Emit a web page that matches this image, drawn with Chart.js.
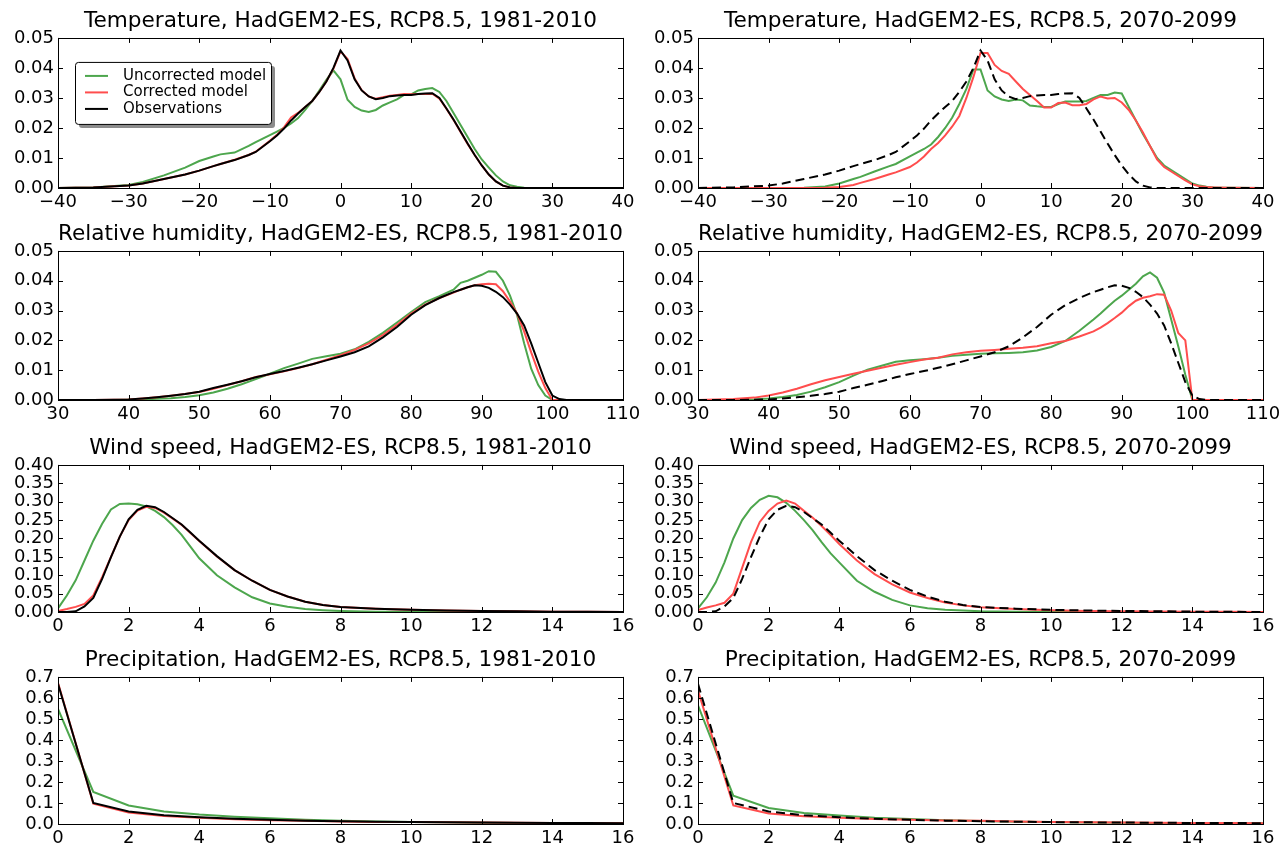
<!DOCTYPE html>
<html>
<head>
<meta charset="utf-8">
<script src="https://cdn.jsdelivr.net/npm/chart.js@4.4.1/dist/chart.umd.min.js"></script>
<style>
  body { margin: 0; background: #fff; overflow: hidden; width: 1279px; height: 845px; }
  canvas { position: absolute; }
</style>
</head>
<body>
<script>
// Temperature (deg C)
const tempX = [-40, -35, -30, -28, -25, -22,
  -20, -18, -17, -15, -13, -12, -10, -9,
  -8, -7, -6, -5, -4, -3, -2, -1,
  0, 1, 2, 3, 4, 5, 6, 7, 8, 9,
  10, 11, 12, 13, 14, 15, 16, 17, 18, 19,
  20, 21, 22, 23, 24, 25, 26, 27, 28, 29,
  30, 31, 32, 33, 35, 40];
const tempObs = [0, 0.0002, 0.0008, 0.0015, 0.003, 0.0045,
  0.0058, 0.0073, 0.008, 0.0093, 0.011, 0.012, 0.0156, 0.0175,
  0.0198, 0.0225, 0.0248, 0.027, 0.029, 0.032, 0.0355, 0.040,
  0.0458, 0.0425, 0.0362, 0.0325, 0.0305, 0.0296, 0.030, 0.0306, 0.0308, 0.031,
  0.031, 0.0313, 0.0315, 0.0316, 0.030, 0.0265, 0.0228, 0.0188, 0.0148, 0.011,
  0.0075, 0.0045, 0.0022, 0.0008, 0.0002, 0, 0, 0, 0, 0,
  0, 0, 0, 0, 0, 0];
const tempUncorrHist = [0, 0.0002, 0.001, 0.002, 0.0042, 0.0068,
  0.009, 0.0105, 0.0112, 0.0118, 0.014, 0.0153, 0.0176, 0.0188,
  0.020, 0.0215, 0.0233, 0.026, 0.029, 0.0325, 0.036, 0.0392,
  0.0362, 0.0294, 0.027, 0.0258, 0.0253, 0.026, 0.0275, 0.0285, 0.0295, 0.031,
  0.0312, 0.0325, 0.033, 0.0333, 0.032, 0.029, 0.025, 0.021, 0.017, 0.013,
  0.0095, 0.0068, 0.0042, 0.0022, 0.0009, 0.0004, 0.0001, 0, 0, 0,
  0, 0, 0, 0, 0, 0];
const tempCorrHist = [0, 0.0002, 0.0008, 0.0015, 0.003, 0.0045,
  0.0058, 0.0073, 0.008, 0.0094, 0.011, 0.0121, 0.0157, 0.0177,
  0.0202, 0.0235, 0.025, 0.027, 0.029, 0.032, 0.0355, 0.0398,
  0.0455, 0.043, 0.0365, 0.0326, 0.0305, 0.0297, 0.0302, 0.0307, 0.031, 0.0313,
  0.0312, 0.0313, 0.0313, 0.0314, 0.0298, 0.0264, 0.0227, 0.0187, 0.0147, 0.011,
  0.0075, 0.0045, 0.0022, 0.0008, 0.0002, 0, 0, 0, 0, 0,
  0, 0, 0, 0, 0, 0];
const tempUncorrFut = [0, 0, 0, 0, 0.0001, 0.0005,
  0.0015, 0.003, 0.0037, 0.0055, 0.0072, 0.008, 0.0105, 0.0118,
  0.013, 0.0145, 0.017, 0.020, 0.0235, 0.028, 0.033, 0.0395,
  0.0395, 0.0325, 0.0305, 0.0295, 0.029, 0.0295, 0.0292, 0.0275, 0.0272, 0.027,
  0.027, 0.028, 0.0288, 0.0288, 0.0288, 0.029, 0.030, 0.031, 0.031, 0.0318,
  0.0315, 0.027, 0.0225, 0.018, 0.014, 0.010, 0.0075, 0.006, 0.0045, 0.003,
  0.0015, 0.0008, 0.0004, 0.0002, 0.0001, 0];
const tempCorrFut = [0, 0, 0, 0, 0, 0.0001,
  0.0003, 0.001, 0.0017, 0.003, 0.0045, 0.0052, 0.007, 0.0085,
  0.0105, 0.013, 0.015, 0.0175, 0.0205, 0.024, 0.030, 0.037,
  0.045, 0.045, 0.041, 0.039, 0.038, 0.0355, 0.033, 0.031, 0.029, 0.0268,
  0.0268, 0.0283, 0.0285, 0.0276, 0.0276, 0.028, 0.0295, 0.0305, 0.0298, 0.030,
  0.0285, 0.026, 0.0225, 0.0185, 0.014, 0.0095, 0.007, 0.0055, 0.004, 0.0025,
  0.0012, 0.0006, 0.0003, 0.0002, 0.0001, 0];

// Relative humidity (%)
const rhX = [30, 35, 38, 40, 42, 44, 46, 48,
  50, 52, 54, 56, 58, 60, 62, 64, 66, 68,
  70, 72, 74, 76, 78, 80, 82, 84, 86,
  87, 88, 89, 90, 91, 92, 93, 94, 95, 96,
  97, 98, 99, 100, 101, 102, 110];
const rhObs = [0, 0, 0.0001, 0.0002, 0.0005, 0.0009, 0.0014, 0.002,
  0.0028, 0.004, 0.0051, 0.0063, 0.0076, 0.0087, 0.0097, 0.0108, 0.012, 0.0133,
  0.0146, 0.016, 0.018, 0.021, 0.0245, 0.0286, 0.0318, 0.0342, 0.0362,
  0.037, 0.0378, 0.0385, 0.0383, 0.0376, 0.0363, 0.0345, 0.032, 0.029, 0.025,
  0.019, 0.0125, 0.006, 0.0015, 0.0003, 0, 0];
const rhUncorrHist = [0, 0, 0, 0.0001, 0.0002, 0.0004, 0.0006, 0.001,
  0.0016, 0.0025, 0.0038, 0.0053, 0.007, 0.0088, 0.0107, 0.0122, 0.0138, 0.0147,
  0.0155, 0.017, 0.0195, 0.0225, 0.026, 0.0295, 0.0328, 0.0348, 0.037,
  0.0393, 0.040, 0.041, 0.042, 0.0432, 0.043, 0.040, 0.035, 0.0285, 0.019,
  0.0105, 0.005, 0.0015, 0, 0, 0, 0];
const rhCorrHist = [0, 0, 0.0001, 0.0002, 0.0005, 0.0009, 0.0014, 0.002,
  0.0027, 0.0038, 0.005, 0.0063, 0.0077, 0.0086, 0.0096, 0.0107, 0.012, 0.0135,
  0.015, 0.0168, 0.019, 0.0218, 0.0252, 0.029, 0.032, 0.0342, 0.036,
  0.037, 0.0378, 0.0385, 0.0388, 0.039, 0.0388, 0.0365, 0.033, 0.029, 0.023,
  0.016, 0.0095, 0.004, 0, 0, 0, 0];
const rhUncorrFut = [0, 0, 0.0002, 0.0005, 0.001, 0.0017, 0.0028, 0.0043,
  0.006, 0.0082, 0.0102, 0.0115, 0.0128, 0.0133, 0.0137, 0.0142, 0.0148, 0.0152,
  0.0155, 0.0157, 0.0158, 0.016, 0.0166, 0.0178, 0.0198, 0.0232, 0.027,
  0.029, 0.0312, 0.0333, 0.035, 0.037, 0.039, 0.0415, 0.0428, 0.041, 0.036,
  0.027, 0.018, 0.0085, 0, 0, 0, 0];
const rhCorrFut = [0, 0.0003, 0.0008, 0.0015, 0.0025, 0.0038, 0.0053, 0.0066,
  0.0077, 0.0088, 0.0098, 0.0108, 0.0118, 0.0127, 0.0136, 0.0142, 0.0153, 0.016,
  0.0165, 0.0168, 0.0172, 0.0175, 0.018, 0.019, 0.0198, 0.0213, 0.023,
  0.0243, 0.0258, 0.0275, 0.0293, 0.0315, 0.0333, 0.0343, 0.0348, 0.0355, 0.0353,
  0.030, 0.0225, 0.020, 0, 0, 0, 0];

// Wind speed (m/s)
const windX = [0, 0.25, 0.5, 0.75, 1, 1.25, 1.5, 1.75,
  2, 2.25, 2.5, 2.75, 3, 3.25, 3.5, 3.75,
  4, 4.5, 5, 5.5, 6, 6.5, 7, 7.5, 8,
  9, 10, 11, 12, 13, 14, 15, 16];
const windObs = [0, 0, 0.002, 0.015, 0.038, 0.09, 0.149, 0.205,
  0.252, 0.278, 0.289, 0.285, 0.272, 0.255, 0.238, 0.216,
  0.194, 0.152, 0.114, 0.085, 0.060, 0.042, 0.028, 0.019, 0.0135,
  0.009, 0.006, 0.004, 0.003, 0.002, 0.001, 0.0005, 0];
const windUncorrHist = [0.01, 0.045, 0.086, 0.14, 0.194, 0.24, 0.279, 0.294,
  0.295, 0.293, 0.287, 0.275, 0.258, 0.236, 0.21, 0.178,
  0.146, 0.1, 0.067, 0.04, 0.023, 0.014, 0.008, 0.005, 0.003,
  0.001, 0.0005, 0, 0, 0, 0, 0, 0];
const windCorrHist = [0.003, 0.008, 0.014, 0.022, 0.045, 0.095, 0.15, 0.205,
  0.25, 0.276, 0.286, 0.283, 0.27, 0.254, 0.237, 0.215,
  0.193, 0.151, 0.114, 0.085, 0.060, 0.042, 0.028, 0.019, 0.0135,
  0.009, 0.006, 0.004, 0.003, 0.002, 0.001, 0.0005, 0];
const windUncorrFut = [0.01, 0.04, 0.08, 0.135, 0.2, 0.25, 0.283, 0.305,
  0.316, 0.312, 0.297, 0.275, 0.25, 0.222, 0.19, 0.16,
  0.135, 0.085, 0.055, 0.033, 0.018, 0.01, 0.006, 0.004, 0.002,
  0.001, 0.0005, 0, 0, 0, 0, 0, 0];
const windCorrFut = [0.005, 0.012, 0.018, 0.025, 0.05, 0.12, 0.19, 0.245,
  0.275, 0.295, 0.303, 0.295, 0.275, 0.256, 0.234, 0.21,
  0.185, 0.14, 0.103, 0.075, 0.053, 0.038, 0.026, 0.018, 0.013,
  0.008, 0.005, 0.003, 0.002, 0.0015, 0.001, 0.0005, 0];

// Precipitation (mm/day)
const precX = [0, 1, 2, 3, 4, 5, 6, 7, 8, 9, 10, 11, 12, 13, 14, 15, 16];
const precObs = [0.667, 0.100, 0.060, 0.042, 0.032, 0.025, 0.020, 0.016, 0.013, 0.011, 0.009, 0.008, 0.007, 0.006, 0.005, 0.0045, 0.004];
const precUncorrHist = [0.548, 0.153, 0.088, 0.060, 0.045, 0.035, 0.027, 0.020, 0.015, 0.012, 0.010, 0.008, 0.006, 0.005, 0.004, 0.003, 0.003];
const precCorrHist = [0.672, 0.097, 0.055, 0.038, 0.030, 0.023, 0.018, 0.015, 0.012, 0.010, 0.009, 0.008, 0.007, 0.006, 0.005, 0.0045, 0.004];
const precUncorrFut = [0.565, 0.135, 0.076, 0.052, 0.040, 0.030, 0.024, 0.018, 0.014, 0.011, 0.009, 0.007, 0.006, 0.005, 0.004, 0.003, 0.003];
const precCorrFut = [0.635, 0.088, 0.050, 0.037, 0.030, 0.024, 0.020, 0.017, 0.015, 0.012, 0.010, 0.008, 0.007, 0.006, 0.005, 0.0045, 0.004];

const seriesLabels = ['Uncorrected model', 'Corrected model', 'Observations'];
const periods = ['1981-2010', '2070-2099'];

const GREEN = 'rgb(77,166,77)';
const RED = 'rgb(255,77,77)';
const FONT = 'DejaVu Sans';

// marco negro y marcas hacia dentro, como en matplotlib
const framePlugin = {
  id: 'frame',
  afterDatasetsDraw(chart) {
    const { ctx, chartArea: a, scales } = chart;
    const len = 5;
    ctx.save();
    ctx.strokeStyle = '#000';
    ctx.lineWidth = 1;
    ctx.beginPath();
    scales.x.ticks.forEach(t => {
      const px = Math.round(scales.x.getPixelForValue(t.value)) + 0.5;
      ctx.moveTo(px, a.bottom); ctx.lineTo(px, a.bottom - len);
      ctx.moveTo(px, a.top); ctx.lineTo(px, a.top + len);
    });
    scales.y.ticks.forEach(t => {
      const py = Math.round(scales.y.getPixelForValue(t.value)) + 0.5;
      ctx.moveTo(a.left, py); ctx.lineTo(a.left + len, py);
      ctx.moveTo(a.right, py); ctx.lineTo(a.right - len, py);
    });
    ctx.stroke();
    ctx.strokeRect(Math.round(a.left) + 0.5, Math.round(a.top) + 0.5,
      Math.round(a.right - a.left), Math.round(a.bottom - a.top));
    ctx.restore();
  }
};

// leyenda con sombra dentro del primer panel
const boxLegendPlugin = {
  id: 'boxLegend',
  afterDraw(chart, args, opts) {
    if (!opts.show) return;
    const { ctx, chartArea: a } = chart;
    const x0 = a.left + 17, y0 = a.top + 24, w = 196, h = 62;
    ctx.save();
    ctx.fillStyle = 'rgba(0,0,0,0.45)';
    ctx.beginPath();
    ctx.roundRect(x0 + 4, y0 + 4, w, h, 3);
    ctx.fill();
    ctx.fillStyle = '#fff';
    ctx.strokeStyle = '#000';
    ctx.lineWidth = 1;
    ctx.beginPath();
    ctx.roundRect(x0 + 0.5, y0 + 0.5, w, h, 3);
    ctx.fill();
    ctx.stroke();
    ctx.font = '15px "' + FONT + '"';
    ctx.textBaseline = 'middle';
    chart.data.datasets.forEach((ds, i) => {
      const yy = y0 + 14 + i * 16.5;
      ctx.strokeStyle = ds.borderColor;
      ctx.lineWidth = 2;
      ctx.setLineDash([]);
      ctx.beginPath();
      ctx.moveTo(x0 + 10, yy); ctx.lineTo(x0 + 33, yy);
      ctx.stroke();
      ctx.fillStyle = '#000';
      ctx.fillText(ds.label, x0 + 48, yy);
    });
    ctx.restore();
  }
};

const rowsTop = [38, 251, 465, 677];
const rowsBottom = [188, 400, 612, 824];
const TITLE_H = 36, XAXIS_H = 22;

const panels = [
  { name: 'Temperature', x: tempX, series: [[tempUncorrHist, tempCorrHist, tempObs], [tempUncorrFut, tempCorrFut, tempObs]],
    xMin: -40, xMax: 40, xStep: 10, yMax: 0.05, yStep: 0.01, yDec: 2 },
  { name: 'Relative humidity', x: rhX, series: [[rhUncorrHist, rhCorrHist, rhObs], [rhUncorrFut, rhCorrFut, rhObs]],
    xMin: 30, xMax: 110, xStep: 10, yMax: 0.05, yStep: 0.01, yDec: 2 },
  { name: 'Wind speed', x: windX, series: [[windUncorrHist, windCorrHist, windObs], [windUncorrFut, windCorrFut, windObs]],
    xMin: 0, xMax: 16, xStep: 2, yMax: 0.40, yStep: 0.05, yDec: 2 },
  { name: 'Precipitation', x: precX, series: [[precUncorrHist, precCorrHist, precObs], [precUncorrFut, precCorrFut, precObs]],
    xMin: 0, xMax: 16, xStep: 2, yMax: 0.7, yStep: 0.1, yDec: 1 }
];

const cols = [
  { left: 0, width: 640, plotRight: 623 },
  { left: 640, width: 639, plotRight: 1263 }
];

panels.forEach((p, r) => {
  cols.forEach((c, ci) => {
    const canvas = document.createElement('canvas');
    const top = rowsTop[r] - TITLE_H;
    const height = TITLE_H + (rowsBottom[r] - rowsTop[r]) + XAXIS_H;
    canvas.width = c.width;
    canvas.height = height;
    canvas.style.left = c.left + 'px';
    canvas.style.top = top + 'px';
    canvas.style.width = c.width + 'px';
    canvas.style.height = height + 'px';
    document.body.appendChild(canvas);

    const colors = [GREEN, RED, '#000'];
    const datasets = p.series[ci].map((vals, i) => ({
      label: seriesLabels[i],
      data: p.x.map((xv, k) => ({ x: xv, y: vals[k] })),
      borderColor: colors[i],
      borderWidth: 2,
      borderDash: (ci === 1 && i === 2) ? [9, 5] : [],
      pointRadius: 0,
      tension: 0,
      fill: false,
      order: 3 - i
    }));

    new Chart(canvas, {
      type: 'line',
      data: { datasets },
      options: {
        responsive: false,
        animation: false,
        events: [],
        layout: { padding: { left: 0, right: c.left + c.width - c.plotRight, top: 0, bottom: 0 } },
        plugins: {
          legend: { display: false },
          tooltip: { enabled: false },
          title: {
            display: true,
            fullSize: false,
            text: p.name + ', HadGEM2-ES, RCP8.5, ' + periods[ci],
            color: '#000',
            font: { family: FONT, size: 21.6, weight: 'normal' },
            padding: { top: 6, bottom: 4 }
          },
          boxLegend: { show: r === 0 && ci === 0 }
        },
        scales: {
          x: {
            type: 'linear',
            min: p.xMin, max: p.xMax,
            grid: { display: false, drawTicks: false },
            border: { display: false },
            ticks: {
              stepSize: p.xStep,
              autoSkip: false,
              padding: 4,
              color: '#000',
              maxRotation: 0,
              font: { family: FONT, size: 18 },
              callback: v => (v < 0 ? '\u2212' + Math.abs(v) : String(v))
            },
            afterFit: s => { s.height = XAXIS_H; s.paddingLeft = 0; s.paddingRight = 0; }
          },
          y: {
            min: 0, max: p.yMax,
            grid: { display: false, drawTicks: false },
            border: { display: false },
            ticks: {
              stepSize: p.yStep,
              autoSkip: false,
              padding: 4,
              color: '#000',
              font: { family: FONT, size: 18 },
              callback: v => Number(v).toFixed(p.yDec)
            },
            afterFit: s => { s.width = 58; s.paddingTop = 0; s.paddingBottom = 0; }
          }
        }
      },
      plugins: [framePlugin, boxLegendPlugin]
    });
  });
});
</script>
</body>
</html>
